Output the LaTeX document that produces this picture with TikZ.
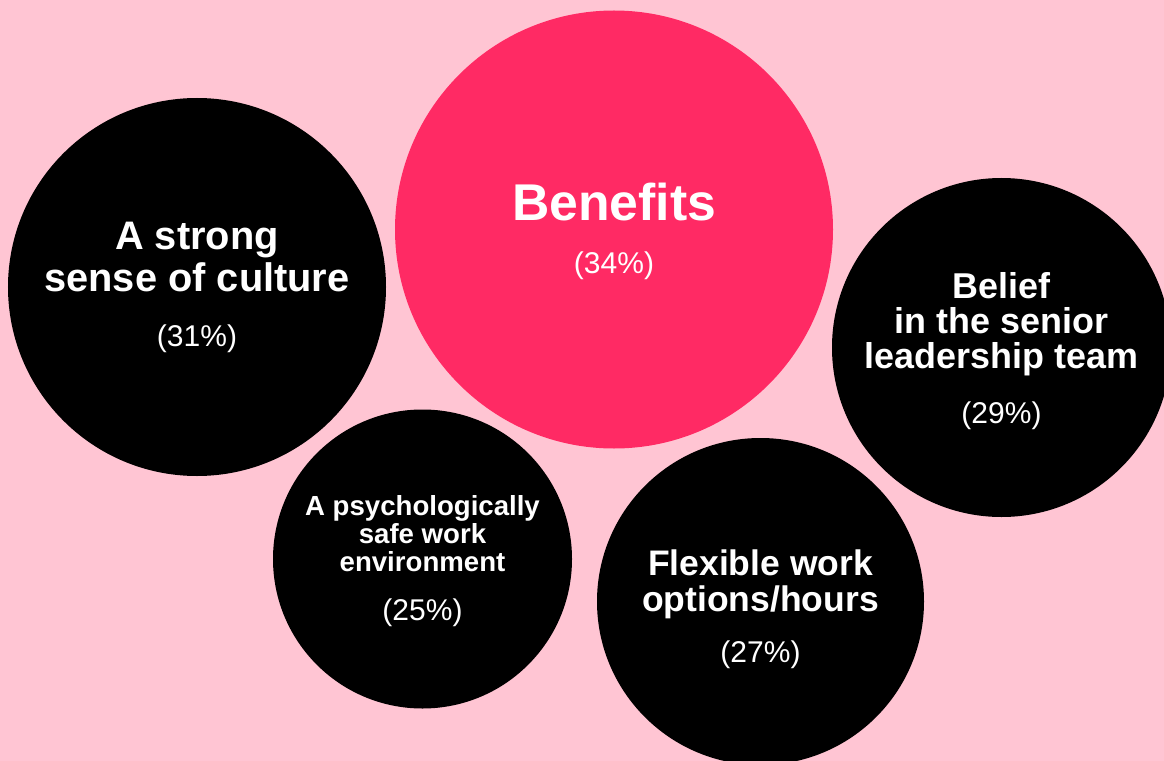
\documentclass[tikz,border=0pt]{standalone}
\usepackage{fontspec}
\setmainfont{Liberation Sans}
\definecolor{bgpink}{RGB}{255,197,211}
\definecolor{hotpink}{RGB}{255,42,100}
\newcommand{\pctfont}{\mdseries\fontsize{30bp}{30bp}\selectfont}

\begin{document}
\begin{tikzpicture}[x=1bp, y=-1bp,
    bubble/.style={circle, fill=black, text=white, inner sep=0pt, align=center}]
  % Background
  \fill[bgpink] (0,0) rectangle (1164,761);
  \clip (0,0) rectangle (1164,761);

  % Benefits
  \node[bubble, fill=hotpink, minimum size=438bp,
        font=\bfseries\fontsize{51.7bp}{53bp}\selectfont] (benefits) at (614,229.5) {
    \rule{0pt}{42bp}Benefits\\
    {\pctfont (34\%)}
  };

  % Culture
  \node[bubble, minimum size=378bp,
        font=\bfseries\fontsize{39.8bp}{42bp}\selectfont] (culture) at (197,287) {
    A strong\\
    sense of culture\\[13bp]
    {\pctfont (31\%)}
  };

  % Leadership
  \node[bubble, minimum size=339bp,
        font=\bfseries\fontsize{35.9bp}{35bp}\selectfont] (leader) at (1001.5,347.5) {
    \rule{0pt}{34bp}Belief\\
    in the senior\\
    leadership team\\[20bp]
    {\pctfont (29\%)}
  };

  % Psychological safety
  \node[bubble, minimum size=299bp,
        font=\bfseries\fontsize{27.6bp}{28bp}\selectfont] (safe) at (422.5,559) {
    \rule{0pt}{24bp}A psychologically\\
    safe work\\
    environment\\[21bp]
    {\pctfont (25\%)}
  };

  % Flexible work
  \node[bubble, minimum size=327bp,
        font=\bfseries\fontsize{35.5bp}{36bp}\selectfont] (flex) at (760.5,601.5) {
    \rule{0pt}{42bp}Flexible work\\
    options/hours\\[15bp]
    {\pctfont (27\%)}
  };
\end{tikzpicture}
\end{document}
